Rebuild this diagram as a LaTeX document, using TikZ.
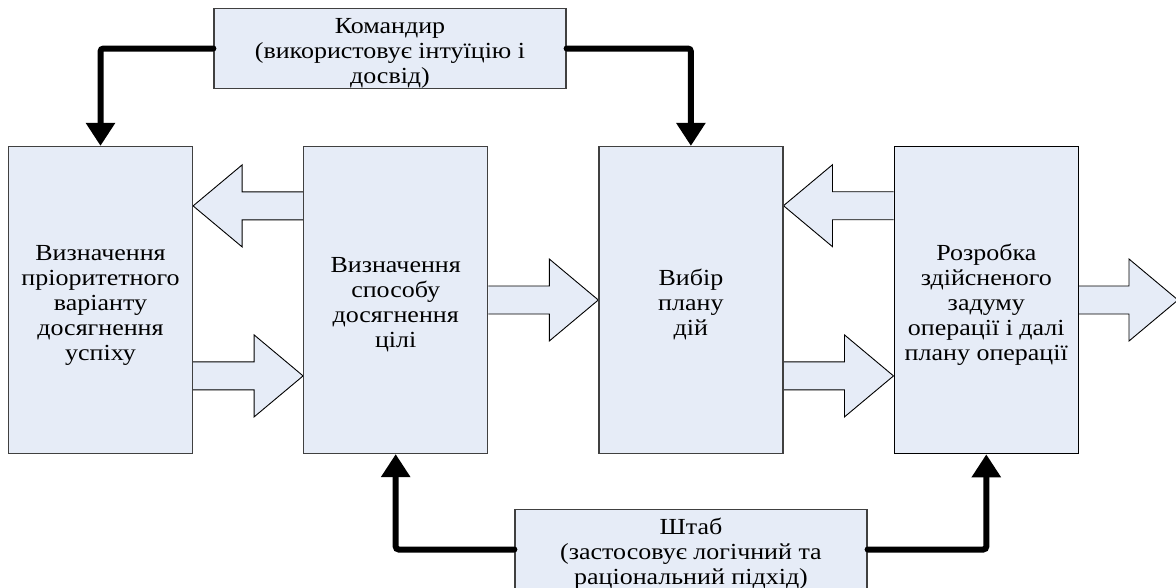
\documentclass[tikz,border=0pt]{standalone}
\usepackage{fontspec}
\setmainfont{Liberation Serif}[FakeStretch=1.13]
\usetikzlibrary{arrows.meta}
\usetikzlibrary{calc}
\usetikzlibrary{positioning}
\usetikzlibrary{backgrounds}

\definecolor{boxfill}{RGB}{230,236,247}
\definecolor{boxline}{RGB}{64,64,64}

% strut that pushes the first line down a little
\newcommand{\topstrut}{\rule{0pt}{25pt}}

% wide hollow arrow from #1 to the x of #2
\newcommand{\fatarrow}[2]{%
  \draw[fat] let \p1=#1, \p2=#2, \n1={sign(\x2-\x1)} in
    (\x1,\y1+14pt) -- (\x2-\n1*49pt,\y1+14pt) -- (\x2-\n1*49pt,\y1+41pt)
    -- (\x2,\y1) -- (\x2-\n1*49pt,\y1-41pt) -- (\x2-\n1*49pt,\y1-14pt)
    -- (\x1,\y1-14pt);}

\begin{document}
\begin{tikzpicture} [
    x=1pt, y=-1pt,
    font=\fontsize{23}{25}\selectfont,
    block/.style = { rectangle, draw=boxline, line width=1.2pt,
                     fill=boxfill, align=center,
                     minimum width=184pt, minimum height=307pt },
    role/.style  = { rectangle, draw=boxline, line width=1.2pt,
                     fill=boxfill, align=center, inner ysep=0pt,
                     minimum width=352pt, minimum height=77pt },
    fat/.style   = { draw=black, line width=0.9pt, fill=boxfill },
    line/.style  = { draw, line width=6pt, rounded corners=3pt, line cap=round,
                     -{Triangle[width=28pt,length=23pt]} },
    node distance=110pt,
  ]
\useasboundingbox (0,0) rectangle (1176,587);

\node (b1) [block] at (100.5,300) {\topstrut Визначення\\пріоритетного\\варіанту\\досягнення\\успіху};
\node (b2) [block,right=of b1] {\topstrut Визначення\\способу\\досягнення\\цілі};
\node (b3) [block,right=of b2] {\topstrut Вибір\\плану\\дій};
\node (b4) [block,right=of b3,draw=black,line width=1.6pt] {\topstrut Розробка\\здійсненого\\задуму\\операції і далі\\плану операції};

\node (cmd) [role] at (390,48.5) {\topstrut Командир\\(використовує інтуїцію і\\досвід)};
\node (hq) [role] at (691,549.5) {\topstrut Штаб\\(застосовує логічний та\\раціональний підхід)};
\coordinate (out) at (1178,300);

\begin{scope}[on background layer]
\fatarrow{([yshift=-60pt]b2.north west)}{(b1.east)}
\fatarrow{([yshift=-230pt]b1.north east)}{(b2.west)}
\fatarrow{(b2.east)}{(b3.west)}
\fatarrow{([yshift=-60pt]b4.north west)}{(b3.east)}
\fatarrow{([yshift=-230pt]b3.north east)}{(b4.west)}
\fatarrow{(b4.east)}{(out)}
\end{scope}

\begin{scope}[every path/.style=line]
\path (cmd.west) -| (b1.north);
\path (cmd.east) -| (b3.north);
\path (hq.west) -| (b2.south);
\path (hq.east) -| (b4.south);
\end{scope}

\end{tikzpicture}
\end{document}
